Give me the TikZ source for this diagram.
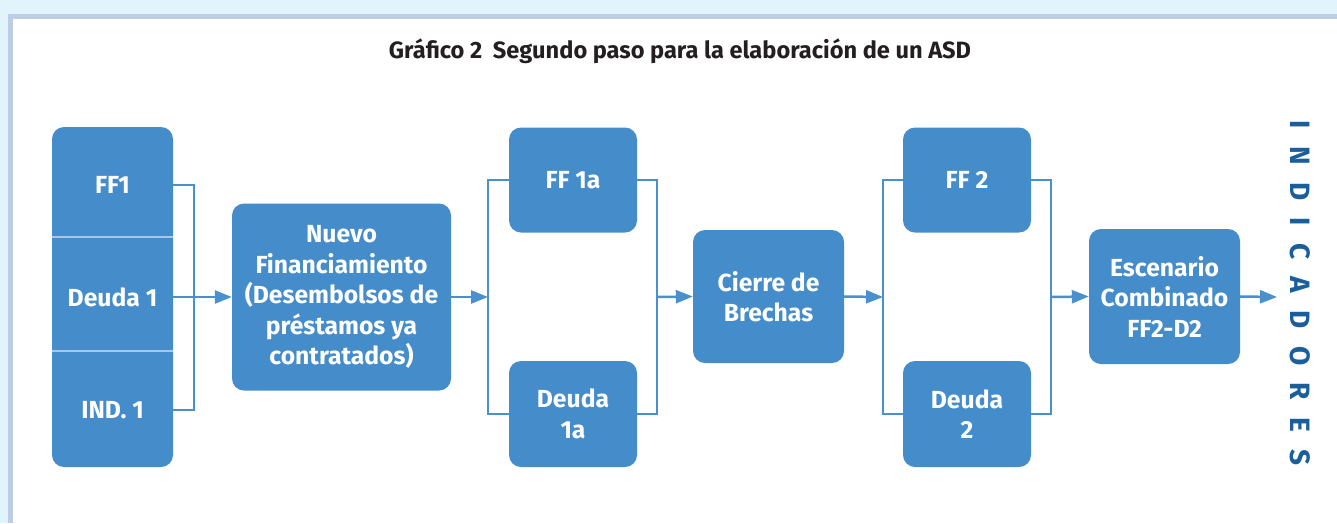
\documentclass[tikz,border=0pt]{standalone}
\usepackage{fontspec}
\setmainfont{Fira Sans}
\usetikzlibrary{arrows.meta}
\definecolor{bgblue}{HTML}{E1F3FB}
\definecolor{bordercol}{HTML}{BDCEE4}
\definecolor{boxblue}{HTML}{458DCA}
\definecolor{lineblue}{HTML}{4A90CE}
\definecolor{sepcol}{HTML}{A8C7E6}
\definecolor{darkblue}{HTML}{1B5E9C}
\definecolor{titlegray}{HTML}{231F20}
\tikzset{
  box/.style={fill=boxblue, rounded corners=12pt, inner sep=0pt},
  boxtext/.style={text=white, font=\fontsize{24.7}{30.5}\selectfont\bfseries, align=center, inner sep=0pt},
  conn/.style={draw=lineblue, line width=2.5pt},
  arr/.style={conn, -{Triangle[length=17pt,width=13pt]}},
  sepline/.style={draw=sepcol, line width=2pt}
}
\begin{document}
\begin{tikzpicture}[x=1pt,y=-1pt]
\useasboundingbox (0,0) rectangle (1337,523);
\fill[bgblue] (0,0) rectangle (1337,523);
\fill[bordercol] (8,14) rectangle (1337,523);
\fill[white] (13,19) rectangle (1337,523);

% title
\node[text=titlegray, font=\fontsize{23.6}{26}\selectfont\bfseries, anchor=base] (title) at (680,58)
  {Gráfico 2\hspace{0.45em}Segundo paso para la elaboración de un ASD};

% left column
\node[box, minimum width=121pt, minimum height=340pt] (col) at (112.5,297) {};
\draw[sepline] (col.west |- 0,237) -- (col.east |- 0,237);
\draw[sepline] (col.west |- 0,351) -- (col.east |- 0,351);
\node[boxtext] (ff1) at (112.5,185) {FF1};
\node[boxtext] (deuda1) at (112.5,297) {Deuda 1};
\node[boxtext] (ind1) at (112.5,410) {IND. 1};

% other boxes
\node[box, minimum width=219pt, minimum height=187pt, boxtext] (nuevo) at (341.5,297)
  {Nuevo\\Financiamiento\\(Desembolsos de\\préstamos ya\\contratados)};
\node[box, minimum width=128pt, minimum height=105pt, boxtext] (ff1a) at (573,180) {FF 1a};
\node[box, minimum width=128pt, minimum height=106pt, boxtext] (deuda1a) at (573,414) {Deuda\\1a};
\node[box, minimum width=151pt, minimum height=133pt, boxtext] (cierre) at (768.5,296.5) {Cierre de\\Brechas};
\node[box, minimum width=128pt, minimum height=105pt, boxtext] (ff2) at (967,180) {FF 2};
\node[box, minimum width=128pt, minimum height=106pt, boxtext] (deuda2) at (967,414) {Deuda\\2};
\node[box, minimum width=151pt, minimum height=135pt, boxtext] (esc) at (1164.5,296.5) {Escenario\\Combinado\\FF2-D2};

% vertical label
\node[rotate=-90, text=darkblue, font=\fontsize{28}{28}\selectfont\bfseries\addfontfeature{LetterSpace=62}, inner sep=0pt] (indic) at (1300,293) {INDICADORES};

% connectors
\coordinate (b0) at (194,297);
\draw[conn] (col.east |- ff1) -| (b0) |- (col.east |- ind1);
\draw[arr] (col.east |- deuda1) -- (nuevo.west);

\coordinate (b1l) at (488,297);
\coordinate (b1r) at (657,297);
\draw[conn] (ff1a.west) -| (b1l) |- (deuda1a.west);
\draw[conn] (ff1a.east) -| (b1r) |- (deuda1a.east);
\draw[arr] (nuevo.east) -- (b1l);
\draw[arr] (b1r) -- (cierre.west);

\coordinate (b2l) at (883,297);
\coordinate (b2r) at (1051,297);
\draw[conn] (ff2.west) -| (b2l) |- (deuda2.west);
\draw[conn] (ff2.east) -| (b2r) |- (deuda2.east);
\draw[arr] (cierre.east) -- (b2l);
\draw[arr] (b2r) -- (esc.west);

\coordinate (out) at (1277,297);
\draw[arr] (esc.east) -- (out);
\end{tikzpicture}
\end{document}
